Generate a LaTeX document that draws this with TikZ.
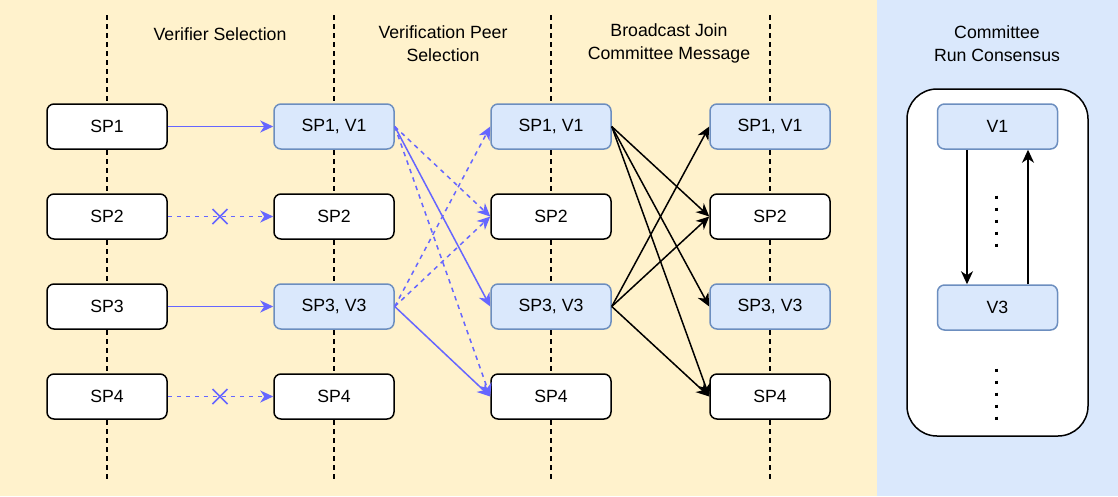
\documentclass[tikz,border=0pt]{standalone}
\usepackage{fontspec}
\setmainfont{Liberation Sans}
\usetikzlibrary{arrows.meta}
\definecolor{phasebg}{HTML}{FFF2CC}
\definecolor{consbg}{HTML}{DAE8FC}
\definecolor{vfill}{HTML}{DAE8FC}
\definecolor{vedge}{HTML}{6C8EBF}
\definecolor{msgblue}{HTML}{6666FF}
\tikzset{
  box/.style={draw=black, fill=white, line width=1.5pt, rounded corners=7pt,
    minimum width=120pt, minimum height=45pt, inner sep=0pt,
    font=\fontsize{17.7}{21}\selectfont},
  vbox/.style={box, draw=vedge, fill=vfill},
  title/.style={align=center, inner sep=0pt,
    font=\fontsize{17.7}{23}\selectfont},
  lane/.style={line width=1.3pt, dash pattern=on 5pt off 4pt},
  tip/.style={-{Stealth[length=13pt,width=12pt,inset=4pt]}},
  sel/.style={tip, msgblue, line width=1.5pt},
  seldash/.style={sel, dash pattern=on 4.5pt off 4.5pt},
  bcast/.style={tip, black, line width=1.5pt},
  crossmark/.style={msgblue, line width=1.5pt},
  dots/.style={line width=3pt, dash pattern=on 3pt off 9pt}
}
\begin{document}
\begin{tikzpicture}[x=1pt, y=-1pt]
  \useasboundingbox (0,0) rectangle (1118,496);
  % panels
  \fill[phasebg] (0,0) rectangle (877,496);
  \fill[consbg] (877,0) rectangle (1118,496);

  % lanes
  \foreach \x in {107,334,551,770}
    \draw[lane] (\x,15) -- (\x,482);

  % titles
  \node[title] (t1) at (220,34.5) {Verifier Selection};
  \node[title] (t2) at (443,43.5) {Verification Peer\\Selection};
  \node[title] (t3) at (669,43.5) {Broadcast Join\\Committee Message};
  \node[title] (t4) at (997,43.5) {Committee\\Run Consensus};

  % column 1
  \node[box] (a1) at (107,126.5) {SP1};
  \node[box] (a2) at (107,216.5) {SP2};
  \node[box] (a3) at (107,306.5) {SP3};
  \node[box] (a4) at (107,396.5) {SP4};
  % column 2
  \node[vbox] (b1) at (334,126.5) {SP1, V1};
  \node[box]  (b2) at (334,216.5) {SP2};
  \node[vbox] (b3) at (334,306.5) {SP3, V3};
  \node[box]  (b4) at (334,396.5) {SP4};
  % column 3
  \node[vbox] (c1) at (551,126.5) {SP1, V1};
  \node[box]  (c2) at (551,216.5) {SP2};
  \node[vbox] (c3) at (551,306.5) {SP3, V3};
  \node[box]  (c4) at (551,396.5) {SP4};
  % column 4
  \node[vbox] (d1) at (770,126.5) {SP1, V1};
  \node[box]  (d2) at (770,216.5) {SP2};
  \node[vbox] (d3) at (770,306.5) {SP3, V3};
  \node[box]  (d4) at (770,396.5) {SP4};

  % verifier selection
  \draw[sel] (a1.east) -- (b1.west);
  \draw[seldash] (a2.east) -- (b2.west);
  \draw[sel] (a3.east) -- (b3.west);
  \draw[seldash] (a4.east) -- (b4.west);
  \coordinate (x2) at (220,216.5);
  \coordinate (x4) at (220,396.5);
  \foreach \c in {x2,x4} {
    \draw[crossmark] ([shift={(-7.5,-7.5)}]\c) -- ([shift={(7.5,7.5)}]\c);
    \draw[crossmark] ([shift={(-7.5,7.5)}]\c) -- ([shift={(7.5,-7.5)}]\c);
  }

  % verification peer selection
  \draw[seldash] (b1.east) -- (c2.west);
  \draw[sel]     (b1.east) -- (c3.west);
  \draw[seldash] (b1.east) -- (c4.west);
  \draw[seldash] (b3.east) -- (c1.west);
  \draw[seldash] (b3.east) -- (c2.west);
  \draw[sel]     (b3.east) -- (c4.west);

  % broadcast join committee message
  \draw[bcast] (c1.east) -- (d2.west);
  \draw[bcast] (c1.east) -- (d3.west);
  \draw[bcast] (c1.east) -- (d4.west);
  \draw[bcast] (c3.east) -- (d1.west);
  \draw[bcast] (c3.east) -- (d2.west);
  \draw[bcast] (c3.east) -- (d4.west);

  % committee consensus
  \node[draw=black, fill=white, line width=1.5pt, rounded corners=30pt,
        minimum width=181pt, minimum height=347pt, inner sep=0pt]
        (comm) at (997.5,262.5) {};
  \node[vbox] (v1) at (997.5,126.5) {V1};
  \node[vbox] (v3) at (997.5,307.5) {V3};
  \draw[bcast] ([xshift=-30.5pt]v1.south) -- ([xshift=-30.5pt]v3.north);
  \draw[bcast] ([xshift=30.5pt]v3.north) -- ([xshift=30.5pt]v1.south);
  \draw[dots] (996,195.5) -- (996,246.5);
  \draw[dots] (996,368.5) -- (996,419.5);
\end{tikzpicture}
\end{document}
